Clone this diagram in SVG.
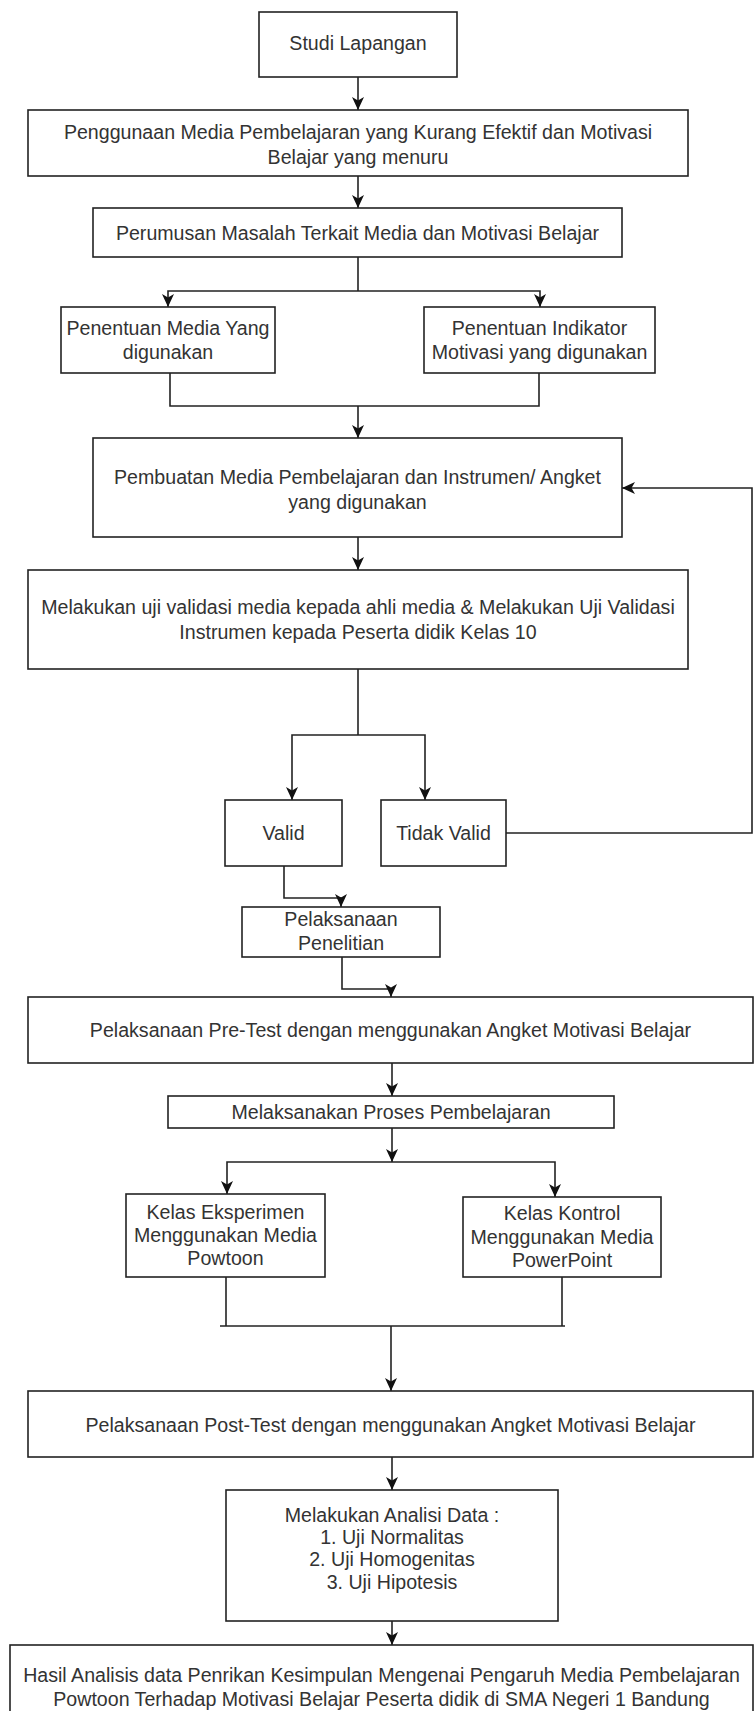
<svg xmlns="http://www.w3.org/2000/svg" width="755" height="1711" viewBox="0 0 755 1711">
<defs>
<marker id="arr" viewBox="0 0 13 12" refX="13" refY="6" markerWidth="13" markerHeight="12" markerUnits="userSpaceOnUse" orient="auto">
<path d="M0,0 L13,6 L0,12 L3.5,6 z" fill="#111"/>
</marker>
<style>
.box{fill:#fff;stroke:#222;stroke-width:1.6}
.t{font-family:"Liberation Sans",Arial,sans-serif;font-size:19.6px;fill:#333;text-anchor:middle}
.c{fill:none;stroke:#222;stroke-width:1.6}
.a{marker-end:url(#arr)}
</style>
</defs>
<rect width="755" height="1711" fill="#fff"/>

<g id="connectors">
<path class="c a" d="M358,77 V110"/>
<path class="c a" d="M358,176 V208"/>
<path class="c" d="M358,257 V291"/>
<path class="c a" d="M358,291 H168 V307"/>
<path class="c a" d="M358,291 H540 V307"/>
<path class="c" d="M170,373 V406 H539 V373"/>
<path class="c a" d="M358,406 V438"/>
<path class="c a" d="M358,537 V570"/>
<path class="c" d="M358,669 V735"/>
<path class="c a" d="M358,735 H292 V800"/>
<path class="c a" d="M358,735 H425 V800"/>
<path class="c a" d="M506,833 H752 V488 H622"/>
<path class="c a" d="M284,866 V898 H341 V907"/>
<path class="c a" d="M342,957 V989 H391 V997"/>
<path class="c a" d="M392,1063 V1096"/>
<path class="c a" d="M392,1128 V1162"/>
<path class="c a" d="M392,1162 H227 V1194"/>
<path class="c a" d="M392,1162 H555 V1197"/>
<path class="c" d="M226,1277 V1326"/>
<path class="c" d="M562,1277 V1326"/>
<path class="c" d="M220,1326 H565"/>
<path class="c a" d="M391,1326 V1391"/>
<path class="c a" d="M392,1457 V1490"/>
<path class="c a" d="M392,1621 V1645"/>
</g>

<g id="studi-lapangan">
<rect class="box" x="259" y="12" width="198" height="65"/>
<text class="t" x="358" y="50">Studi Lapangan</text>
</g>

<g id="penggunaan-media">
<rect class="box" x="28" y="110" width="660" height="66"/>
<text class="t" x="358" y="139">Penggunaan Media Pembelajaran yang Kurang Efektif dan Motivasi</text>
<text class="t" x="358" y="164">Belajar yang menuru</text>
</g>

<g id="perumusan-masalah">
<rect class="box" x="93" y="208" width="529" height="49"/>
<text class="t" x="357.5" y="240">Perumusan Masalah Terkait Media dan Motivasi Belajar</text>
</g>

<g id="penentuan-media">
<rect class="box" x="61" y="307" width="214" height="66"/>
<text class="t" x="168" y="335">Penentuan Media Yang</text>
<text class="t" x="168" y="359">digunakan</text>
</g>

<g id="penentuan-indikator">
<rect class="box" x="424" y="307" width="231" height="66"/>
<text class="t" x="539.5" y="335">Penentuan Indikator</text>
<text class="t" x="539.5" y="359">Motivasi yang digunakan</text>
</g>

<g id="pembuatan-media">
<rect class="box" x="93" y="438" width="529" height="99"/>
<text class="t" x="357.5" y="484">Pembuatan Media Pembelajaran dan Instrumen/ Angket</text>
<text class="t" x="357.5" y="509">yang digunakan</text>
</g>

<g id="uji-validasi">
<rect class="box" x="28" y="570" width="660" height="99"/>
<text class="t" x="358" y="614">Melakukan uji validasi media kepada ahli media &amp; Melakukan Uji Validasi</text>
<text class="t" x="358" y="639">Instrumen kepada Peserta didik Kelas 10</text>
</g>

<g id="valid">
<rect class="box" x="225" y="800" width="117" height="66"/>
<text class="t" x="283.5" y="840">Valid</text>
</g>

<g id="tidak-valid">
<rect class="box" x="381" y="800" width="125" height="66"/>
<text class="t" x="443.5" y="840">Tidak Valid</text>
</g>

<g id="pelaksanaan-penelitian">
<rect class="box" x="242" y="907" width="198" height="50"/>
<text class="t" x="341" y="926">Pelaksanaan</text>
<text class="t" x="341" y="950">Penelitian</text>
</g>

<g id="pre-test">
<rect class="box" x="28" y="997" width="725" height="66"/>
<text class="t" x="390.5" y="1037">Pelaksanaan Pre-Test dengan menggunakan Angket Motivasi Belajar</text>
</g>

<g id="proses-pembelajaran">
<rect class="box" x="168" y="1096" width="446" height="32"/>
<text class="t" x="391" y="1119">Melaksanakan Proses Pembelajaran</text>
</g>

<g id="kelas-eksperimen">
<rect class="box" x="126" y="1194" width="199" height="83"/>
<text class="t" x="225.5" y="1219">Kelas Eksperimen</text>
<text class="t" x="225.5" y="1242">Menggunakan Media</text>
<text class="t" x="225.5" y="1265">Powtoon</text>
</g>

<g id="kelas-kontrol">
<rect class="box" x="463" y="1197" width="198" height="80"/>
<text class="t" x="562" y="1220">Kelas Kontrol</text>
<text class="t" x="562" y="1244">Menggunakan Media</text>
<text class="t" x="562" y="1267">PowerPoint</text>
</g>

<g id="post-test">
<rect class="box" x="28" y="1391" width="725" height="66"/>
<text class="t" x="390.5" y="1432">Pelaksanaan Post-Test dengan menggunakan Angket Motivasi Belajar</text>
</g>

<g id="analisis-data">
<rect class="box" x="226" y="1490" width="332" height="131"/>
<text class="t" x="392" y="1522">Melakukan Analisi Data :</text>
<text class="t" x="392" y="1544">1. Uji Normalitas</text>
<text class="t" x="392" y="1566">2. Uji Homogenitas</text>
<text class="t" x="392" y="1589">3. Uji Hipotesis</text>
</g>

<g id="hasil-analisis">
<rect class="box" x="10" y="1645" width="743" height="90"/>
<text class="t" x="381.5" y="1682">Hasil Analisis data Penrikan Kesimpulan Mengenai Pengaruh Media Pembelajaran</text>
<text class="t" x="381.5" y="1706">Powtoon Terhadap Motivasi Belajar Peserta didik di SMA Negeri 1 Bandung</text>
</g>
</svg>
